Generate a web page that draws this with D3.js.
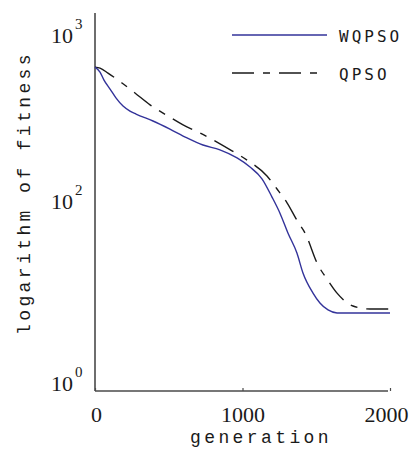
<!DOCTYPE html>
<html>
<head>
<meta charset="utf-8">
<script src="https://cdn.jsdelivr.net/npm/d3@7"></script>
<style>
  html, body { margin: 0; padding: 0; background: #fff; }
  svg { display: block; }
</style>
</head>
<body>
<svg id="chart" width="417" height="451"></svg>
<script>
// ---- data ----
const seriesNames = ["WQPSO", "QPSO"];
const wqpsoGen = [0, 34, 61, 102, 142, 190, 237, 278, 393, 508, 624, 732, 847, 963, 1051, 1132, 1200, 1254, 1308, 1369, 1410, 1478, 1525, 1580, 1641, 2000];
const wqpsoFit = [716, 668, 598, 528, 467, 417, 389, 373, 339, 303, 268, 243, 227, 203, 179, 152, 118, 90, 54.5, 32.8, 19.8, 11.9, 9.27, 7.77, 7.2, 7.2];
const qpsoGen = [0, 34, 88, 183, 271, 373, 495, 597, 712, 827, 929, 1031, 1166, 1234, 1302, 1376, 1424, 1512, 1573, 1641, 1749, 1864, 2000];
const qpsoFit = [716, 706, 659, 574, 500, 424, 363, 321, 287, 253, 224, 197, 158, 132, 109, 72, 54.5, 24.2, 17.0, 11.9, 8.59, 7.96, 7.96];
const xTicks = [0, 1000, 2000];
const yTickExps = [0, 2, 3];
const xLabel = "generation";
const yLabel = "logarithm of fitness";

// ---- layout ----
const svg = d3.select("#chart");
const x = d3.scaleLinear().domain([0, 2000]).range([95, 390]);
const y = d3.scaleLog().domain([1, 100, 1000]).range([391, 209, 43]);

const axisColor = "#4a4a4a";

// axes lines
svg.append("line")
  .attr("x1", x(0)).attr("x2", x(0))
  .attr("y1", 13).attr("y2", y(1))
  .attr("stroke", axisColor).attr("stroke-width", 1.6);

const xAxis = svg.append("g").attr("transform", `translate(0,${y(1)})`)
  .call(d3.axisBottom(x).tickValues(xTicks).tickSizeInner(-3).tickSizeOuter(0).tickFormat(d3.format("d")));
xAxis.select(".domain").attr("stroke", axisColor).attr("stroke-width", 1.6)
  .attr("d", `M${x(0)},0H388`);
xAxis.selectAll(".tick line").attr("stroke", axisColor).attr("stroke-width", 1.2);
xAxis.selectAll(".tick text")
  .attr("font-family", "Liberation Serif, serif")
  .attr("font-size", 22)
  .attr("fill", "#1a1a1a")
  .attr("y", 15).attr("dy", "0.71em");
xAxis.selectAll(".tick").filter(d => d === 0).select("text").attr("dx", 1);
xAxis.selectAll(".tick").filter(d => d === 2000).select("text").attr("dx", -4);

// y tick labels with superscripts
const yt = svg.append("g");
yTickExps.forEach(e => {
  yt.append("text")
    .attr("x", 73).attr("y", y(Math.pow(10, e)))
    .attr("text-anchor", "end")
    .attr("font-family", "Liberation Serif, serif")
    .attr("font-size", 22)
    .attr("fill", "#1a1a1a")
    .text("10");
  yt.append("text")
    .attr("x", 75).attr("y", y(Math.pow(10, e)) - 14)
    .attr("font-family", "Liberation Serif, serif")
    .attr("font-size", 15)
    .attr("fill", "#1a1a1a")
    .text(e);
});

// axis titles
svg.append("text")
  .attr("x", 261).attr("y", 443)
  .attr("text-anchor", "middle")
  .attr("font-family", "Liberation Mono, monospace")
  .attr("font-size", 18)
  .attr("letter-spacing", 3.4)
  .attr("fill", "#1a1a1a")
  .text(xLabel);

svg.append("text")
  .attr("transform", "translate(30,193) rotate(-90)")
  .attr("text-anchor", "middle")
  .attr("font-family", "Liberation Mono, monospace")
  .attr("font-size", 18)
  .attr("letter-spacing", 3.4)
  .attr("fill", "#1a1a1a")
  .text(yLabel);

// lines
const line = d3.line().x(d => x(d[0])).y(d => y(d[1])).curve(d3.curveMonotoneX);
const wq = wqpsoGen.map((g, i) => [g, wqpsoFit[i]]);
const qp = qpsoGen.map((g, i) => [g, qpsoFit[i]]);
const styles = {
  WQPSO: { color: "#33339a", dash: null, width: 1.4 },
  QPSO: { color: "#1a1a1a", dash: "22,9,7,9", width: 1.4 }
};

svg.append("path").datum(qp)
  .attr("d", line).attr("fill", "none")
  .attr("stroke", styles.QPSO.color).attr("stroke-width", styles.QPSO.width)
  .attr("stroke-dasharray", styles.QPSO.dash);
svg.append("path").datum(wq)
  .attr("d", line).attr("fill", "none")
  .attr("stroke", styles.WQPSO.color).attr("stroke-width", styles.WQPSO.width);

// legend
const legY = [35, 73];
seriesNames.forEach((name, i) => {
  const s = styles[name];
  svg.append("line")
    .attr("x1", 232).attr("x2", i === 0 ? 327 : 318)
    .attr("y1", legY[i]).attr("y2", legY[i])
    .attr("stroke", s.color).attr("stroke-width", 1.4)
    .attr("stroke-dasharray", s.dash);
  svg.append("text")
    .attr("x", 339).attr("y", legY[i] + 7)
    .attr("font-family", "DejaVu Sans Mono, monospace")
    .attr("font-size", 16)
    .attr("letter-spacing", 3)
    .attr("fill", "#1a1a1a")
    .text(name);
});
</script>
</body>
</html>
